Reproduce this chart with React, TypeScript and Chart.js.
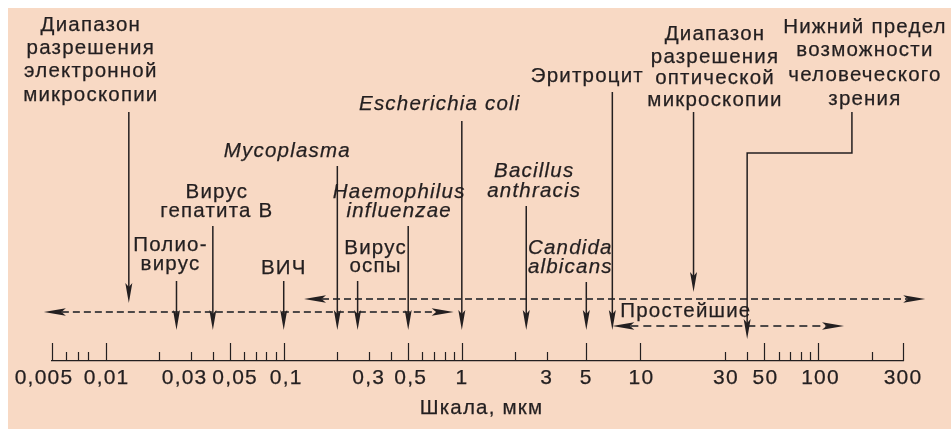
import React, { useEffect, useRef } from 'react';
import { Chart, registerables } from 'chart.js';

Chart.register(...registerables);

// ---------------- data ----------------
const AXIS_MIN_UM = 0.005;
const AXIS_MAX_UM = 300;
const TICK_LABEL_VALUES = [0.005, 0.01, 0.03, 0.05, 0.1, 0.3, 0.5, 1, 3, 5, 10, 30, 50, 100, 300];
const MAJOR_TICKS = [0.005, 0.01, 0.05, 0.1, 0.5, 1, 5, 10, 50, 100, 300];
const MINOR_TICKS = [
  0.006, 0.007, 0.008, 0.02, 0.03, 0.04, 0.06, 0.07, 0.08, 0.09,
  0.2, 0.3, 0.4, 0.6, 0.7, 0.8, 0.9, 2, 3, 30, 40, 60, 70, 80, 90, 200,
];
const AXIS_TITLE = 'Шкала, мкм';

const ITEM_NAMES: string[][] = [
  ['Диапазон', 'разрешения', 'электронной', 'микроскопии'],
  ['Полио-', 'вирус'],
  ['Вирус', 'гепатита В'],
  ['ВИЧ'],
  ['Mycoplasma'],
  ['Вирус', 'оспы'],
  ['Haemophilus', 'influenzae'],
  ['Escherichia coli'],
  ['Bacillus', 'anthracis'],
  ['Candida', 'albicans'],
  ['Эритроцит'],
  ['Диапазон', 'разрешения', 'оптической', 'микроскопии'],
  ['Нижний предел', 'возможности', 'человеческого', 'зрения'],
];
const ITEM_SIZES_UM = [0.0135, 0.025, 0.04, 0.1, 0.2, 0.26, 0.5, 1, 2.3, 5, 7, 20, 40];
const ITEM_ITALIC = [false, false, false, false, true, false, true, true, true, true, false, false, false];

const RANGE_NAMES = ['Электронная микроскопия', 'Оптическая микроскопия', 'Простейшие'];
const RANGE_FROM_UM = [0.0045, 0.13, 7];
const RANGE_TO_UM = [0.9, 400, 140];
const RANGE_SHOW_LABEL = [false, false, true];

// ---------------- layout / style ----------------
// horizontal nudge (px) of each tick label, same order as TICK_LABEL_VALUES
const TICK_LABEL_NUDGE = [-8, 1, -6, 5, 2.5, 0, 2.5, 0, 0, 0, 1.5, 1, 1, 2.5, 0];
const TICK_LABEL_BASELINE = 383.5;
const TITLE_BASELINE = 413.5;
const TITLE_CENTER_X = 481.5;

type ItemLayout = {
  dx: number;
  baselines: number[];
  lineTop: number;
  tip: number;
  elbowUm?: number;
  elbowY?: number;
};
const ITEM_LAYOUT: ItemLayout[] = [
  { dx: -38, baselines: [31, 54, 77, 100.5], lineTop: 112, tip: 303 },
  { dx: -6, baselines: [250.5, 270], lineTop: 281, tip: 330 },
  { dx: 4, baselines: [198, 216.5], lineTop: 226, tip: 330 },
  { dx: 0, baselines: [274], lineTop: 281, tip: 330 },
  { dx: -50, baselines: [156.5], lineTop: 166, tip: 330 },
  { dx: 18, baselines: [253.5, 271.5], lineTop: 281, tip: 330 },
  { dx: -9, baselines: [197.5, 216.5], lineTop: 226, tip: 330 },
  { dx: -22, baselines: [110], lineTop: 121, tip: 330 },
  { dx: 8, baselines: [176.5, 196.5], lineTop: 206, tip: 330 },
  { dx: -16, baselines: [253.5, 272.5], lineTop: 282, tip: 330 },
  { dx: -25, baselines: [82], lineTop: 92, tip: 330 },
  { dx: 21.5, baselines: [39.5, 62.5, 84, 106], lineTop: 112, tip: 292 },
  { dx: 13, baselines: [32.5, 56, 81, 105], lineTop: 112, tip: 339, elbowUm: 155, elbowY: 153 },
];
const RANGE_Y = [312, 299, 326];
const RANGE_LABEL_BASELINE = 316.5;

const PEACH = '#F8D9C4';
const INK = '#231F20';
const DASH_INK = '#4E4948';
const FONT_FAMILY = '"Liberation Sans", Arial, Helvetica, sans-serif';
const FONT_SIZE = 20.5;
const TICK_FONT_SIZE = 21;
const LETTER_SPACING = '1.2px';
const TEXT_STROKE = 0.25;
const MAJOR_TICK_LEN = 18;
const MINOR_TICK_LEN = 9;

function formatTick(v: number): string {
  return String(v).replace('.', ',');
}

function text(ctx: CanvasRenderingContext2D, s: string, x: number, y: number) {
  ctx.fillText(s, x, y);
  ctx.strokeText(s, x, y);
}

function arrowHead(ctx: CanvasRenderingContext2D, x: number, y: number, angle: number, len: number, half: number) {
  ctx.save();
  ctx.translate(x, y);
  ctx.rotate(angle);
  ctx.beginPath();
  ctx.moveTo(0, 0);
  ctx.lineTo(-len, -half);
  ctx.lineTo(-len * 0.8, 0);
  ctx.lineTo(-len, half);
  ctx.closePath();
  ctx.fill();
  ctx.restore();
}

const diagramPlugin = {
  id: 'diagram',
  beforeDraw(chart: any) {
    const { ctx, width, height } = chart;
    ctx.save();
    ctx.fillStyle = '#ffffff';
    ctx.fillRect(0, 0, width, height);
    ctx.fillStyle = PEACH;
    ctx.fillRect(8, 8, width - 8, height - 8);
    ctx.restore();
  },
  afterDraw(chart: any) {
    const ctx: CanvasRenderingContext2D = chart.ctx;
    const xs = chart.scales.x;
    const base = chart.chartArea.bottom;
    ctx.save();
    (ctx as any).letterSpacing = LETTER_SPACING;

    // tick marks (inward)
    ctx.strokeStyle = INK;
    ctx.lineWidth = 1.2;
    const drawTick = (v: number, len: number) => {
      const px = Math.round(xs.getPixelForValue(v)) + 0.5;
      ctx.beginPath();
      ctx.moveTo(px, base);
      ctx.lineTo(px, base - len);
      ctx.stroke();
    };
    MAJOR_TICKS.forEach((v) => drawTick(v, MAJOR_TICK_LEN));
    MINOR_TICKS.forEach((v) => drawTick(v, MINOR_TICK_LEN));

    // tick labels from the scale's ticks
    ctx.fillStyle = INK;
    ctx.strokeStyle = INK;
    ctx.lineWidth = TEXT_STROKE;
    ctx.font = `${TICK_FONT_SIZE}px ${FONT_FAMILY}`;
    ctx.textAlign = 'center';
    ctx.textBaseline = 'alphabetic';
    xs.ticks.forEach((t: any, i: number) => {
      const px = xs.getPixelForValue(t.value) + (TICK_LABEL_NUDGE[i] || 0);
      text(ctx, formatTick(t.value), px, TICK_LABEL_BASELINE);
    });
    ctx.font = `${FONT_SIZE}px ${FONT_FAMILY}`;
    text(ctx, AXIS_TITLE, TITLE_CENTER_X, TITLE_BASELINE);

    // dashed ranges
    RANGE_NAMES.forEach((name, i) => {
      const x0 = xs.getPixelForValue(RANGE_FROM_UM[i]);
      const x1 = xs.getPixelForValue(RANGE_TO_UM[i]);
      const y = RANGE_Y[i];
      ctx.save();
      ctx.strokeStyle = DASH_INK;
      ctx.lineWidth = 2;
      ctx.setLineDash(i === 2 ? [8, 5] : [7, 4]);
      ctx.beginPath();
      ctx.moveTo(x0 + 18, y);
      ctx.lineTo(x1 - 18, y);
      ctx.stroke();
      ctx.restore();
      ctx.fillStyle = INK;
      arrowHead(ctx, x0, y, Math.PI, 22, 3.8);
      arrowHead(ctx, x1, y, 0, 22, 3.8);
      if (RANGE_SHOW_LABEL[i]) {
        ctx.font = `${FONT_SIZE}px ${FONT_FAMILY}`;
        ctx.textAlign = 'left';
        ctx.textBaseline = 'alphabetic';
        ctx.fillStyle = INK;
        ctx.strokeStyle = INK;
        ctx.lineWidth = TEXT_STROKE;
        text(ctx, name, x0 + 8, RANGE_LABEL_BASELINE);
      }
    });

    // annotated arrows
    ITEM_NAMES.forEach((lines, i) => {
      const lay = ITEM_LAYOUT[i];
      const ax = xs.getPixelForValue(ITEM_SIZES_UM[i]);
      const lx = lay.elbowUm !== undefined ? xs.getPixelForValue(lay.elbowUm) : ax;
      ctx.strokeStyle = INK;
      ctx.fillStyle = INK;
      ctx.lineWidth = 1.5;
      ctx.setLineDash([]);
      ctx.beginPath();
      if (lay.elbowUm !== undefined && lay.elbowY !== undefined) {
        ctx.moveTo(lx, lay.lineTop);
        ctx.lineTo(lx, lay.elbowY);
        ctx.lineTo(ax, lay.elbowY);
        ctx.lineTo(ax, lay.tip - 12);
      } else {
        ctx.moveTo(ax, lay.lineTop);
        ctx.lineTo(ax, lay.tip - 12);
      }
      ctx.stroke();
      arrowHead(ctx, ax, lay.tip, Math.PI / 2, 20, 3.5);

      ctx.font = `${ITEM_ITALIC[i] ? 'italic ' : ''}${FONT_SIZE}px ${FONT_FAMILY}`;
      ctx.textAlign = 'center';
      ctx.textBaseline = 'alphabetic';
      ctx.lineWidth = TEXT_STROKE;
      lines.forEach((t, k) => text(ctx, t, lx + lay.dx, lay.baselines[k]));
    });
    ctx.restore();
  },
};

export default function App() {
  const ref = useRef<HTMLCanvasElement>(null);
  useEffect(() => {
    const canvas = ref.current;
    if (!canvas) return;
    const chart = new Chart(canvas, {
      type: 'scatter',
      data: { datasets: [] },
      options: {
        animation: false,
        responsive: false,
        devicePixelRatio: 1,
        layout: { padding: { left: 52, right: 48, top: 8, bottom: 68 } },
        plugins: { legend: { display: false }, tooltip: { enabled: false } },
        scales: {
          x: {
            type: 'logarithmic',
            position: 'bottom',
            min: AXIS_MIN_UM,
            max: AXIS_MAX_UM,
            grid: { display: false, drawTicks: false, drawOnChartArea: false },
            border: { display: true, color: INK, width: 1.3 },
            afterBuildTicks: (scale: any) => {
              scale.ticks = TICK_LABEL_VALUES.map((v) => ({ value: v }));
            },
            ticks: { display: false, autoSkip: false },
            title: { display: false },
          },
          y: { display: false, min: 0, max: 1 },
        },
      },
      plugins: [diagramPlugin],
    });
    return () => chart.destroy();
  }, []);
  return (
    <canvas
      ref={ref}
      width={951}
      height={429}
      style={{ position: 'fixed', left: 0, top: 0, width: 951, height: 429 }}
    />
  );
}
